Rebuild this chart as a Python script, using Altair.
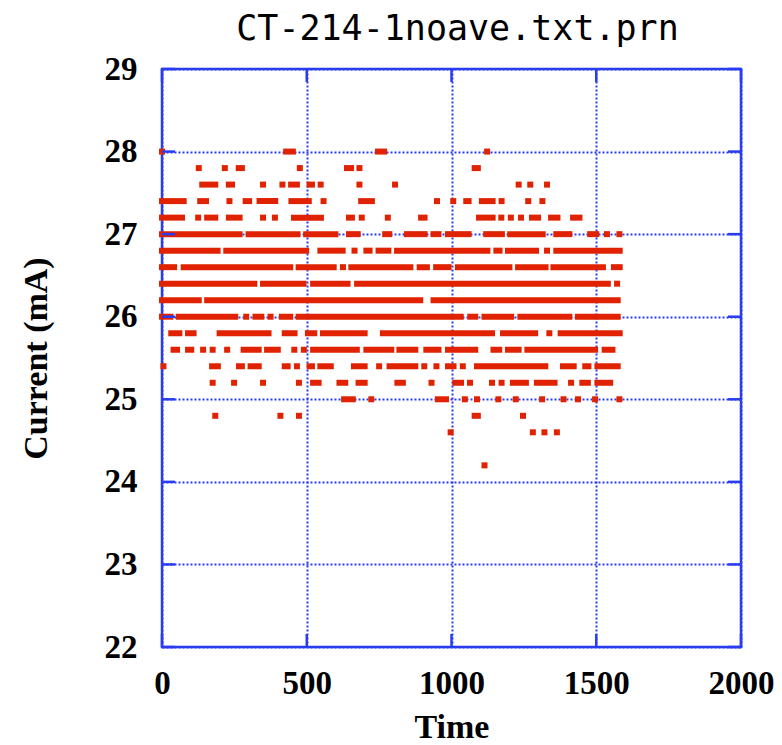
import altair as alt
import pandas as pd

title_text = "CT-214-1noave.txt.prn"
x_title = "Time"
y_title = "Current (mA)"
x_ticks = [0, 500, 1000, 1500, 2000]
y_ticks = [22, 23, 24, 25, 26, 27, 28, 29]

# runs of consecutive readings (start time, end time) at each current level (mA)
runs_28_0 = [(0, 0), (429, 452), (746, 767), (1123, 1123)]
runs_27_8 = [(127, 127), (217, 217), (265, 276), (476, 476), (639, 653), (682, 682), (1080, 1091)]
runs_27_6 = [(139, 184), (231, 242), (349, 349), (416, 416), (446, 466), (510, 518), (548, 548),
             (682, 682), (805, 805), (1232, 1232), (1272, 1272), (1330, 1330)]
runs_27_4 = [(0, 75), (132, 152), (233, 233), (289, 301), (337, 391), (447, 507), (558, 558),
             (688, 725), (950, 950), (1006, 1006), (1051, 1059), (1105, 1142), (1173, 1173),
             (1265, 1265), (1314, 1314)]
runs_27_2 = [(0, 69), (125, 125), (156, 184), (231, 268), (349, 349), (390, 390), (456, 549),
             (646, 656), (690, 690), (780, 780), (895, 907), (1095, 1142), (1172, 1172),
             (1205, 1205), (1240, 1240), (1278, 1299), (1344, 1366), (1420, 1442)]
runs_27_0 = [(0, 268), (299, 468), (498, 599), (646, 676), (771, 785), (846, 907), (938, 955),
             (988, 1059), (1120, 1174), (1203, 1315), (1362, 1407), (1479, 1500), (1537, 1537),
             (1580, 1580)]
runs_26_8 = [(0, 192), (222, 498), (547, 624), (665, 665), (706, 717), (748, 782), (812, 1124),
             (1155, 1166), (1195, 1292), (1330, 1330), (1362, 1581)]
runs_26_6 = [(0, 42), (75, 443), (472, 593), (625, 625), (654, 858), (890, 915), (947, 990),
             (1022, 1200), (1230, 1325), (1352, 1523), (1561, 1581)]
runs_26_4 = [(0, 319), (349, 489), (522, 641), (674, 1540), (1572, 1572)]
runs_26_2 = [(0, 127), (156, 892), (938, 1574)]
runs_26_0 = [(0, 29), (58, 253), (291, 291), (323, 343), (375, 375), (414, 443), (472, 1032),
             (1065, 1082), (1114, 1206), (1238, 1407), (1437, 1574)]
runs_25_8 = [(32, 60), (90, 109), (199, 368), (424, 458), (504, 526), (556, 700), (763, 1140),
             (1178, 1289), (1338, 1338), (1377, 1581)]
runs_25_6 = [(40, 52), (90, 101), (142, 142), (175, 175), (225, 225), (282, 334), (363, 400),
             (457, 457), (490, 490), (522, 673), (706, 792), (820, 875), (913, 955), (988, 1082),
             (1145, 1165), (1195, 1232), (1262, 1496), (1529, 1556)]
runs_25_4 = [(5, 5), (173, 193), (266, 276), (306, 334), (424, 434), (466, 466), (510, 518),
             (547, 583), (663, 700), (750, 750), (786, 875), (906, 906), (948, 948), (988, 1007),
             (1039, 1039), (1088, 1324), (1385, 1422), (1462, 1473), (1504, 1574)]
runs_25_2 = [(175, 175), (249, 249), (349, 349), (473, 473), (522, 541), (613, 633), (679, 700),
             (813, 832), (931, 931), (1013, 1033), (1064, 1064), (1140, 1140), (1173, 1173),
             (1212, 1257), (1295, 1356), (1413, 1413), (1452, 1471), (1504, 1548)]
runs_25_0 = [(629, 659), (723, 723), (953, 981), (1046, 1046), (1088, 1088), (1162, 1162),
             (1222, 1222), (1313, 1313), (1387, 1387), (1437, 1437), (1496, 1496), (1580, 1580)]
runs_24_8 = [(184, 184), (409, 409), (473, 473), (1080, 1091), (1247, 1247)]
runs_24_6 = [(997, 997), (1281, 1281), (1321, 1321), (1364, 1364)]
runs_24_2 = [(1114, 1114)]

levels = [
    (28.0, runs_28_0), (27.8, runs_27_8), (27.6, runs_27_6), (27.4, runs_27_4),
    (27.2, runs_27_2), (27.0, runs_27_0), (26.8, runs_26_8), (26.6, runs_26_6),
    (26.4, runs_26_4), (26.2, runs_26_2), (26.0, runs_26_0), (25.8, runs_25_8),
    (25.6, runs_25_6), (25.4, runs_25_4), (25.2, runs_25_2), (25.0, runs_25_0),
    (24.8, runs_24_8), (24.6, runs_24_6), (24.2, runs_24_2),
]
df = pd.DataFrame(
    [{"current": lv, "t0": a, "t1": b} for lv, runs in levels for a, b in runs]
)
xt = pd.DataFrame({"v": x_ticks})
yt = pd.DataFrame({"v": y_ticks})

W, H = 579, 578
BLUE = "#2a3cf0"
RED = "#e02200"
TICK = 13

xs = alt.Scale(domain=[0, 2000], nice=False, zero=False)
ys = alt.Scale(domain=[22, 29], nice=False, zero=False)

x_axis = alt.Axis(
    values=x_ticks, format="d", grid=True, gridColor=BLUE, gridDash=[2, 2], gridWidth=2,
    domain=False, ticks=False, tickSize=0,
    labelFont="Liberation Serif", labelFontWeight="bold", labelFontSize=33, labelColor="black",
    labelPadding=20, labelFlush=False, labelOverlap=False,
    title=x_title, titleFont="Liberation Serif", titleFontWeight="bold", titleFontSize=34,
    titleColor="black", titleX=W / 2, titleY=80, titleAlign="center", titleBaseline="middle",
)
y_axis = alt.Axis(
    values=y_ticks, format="d", grid=True, gridColor=BLUE, gridDash=[2, 2], gridWidth=2,
    domain=False, ticks=False, tickSize=0,
    labelFont="Liberation Serif", labelFontWeight="bold", labelFontSize=33, labelColor="black",
    labelPadding=25, labelFlush=False, labelOverlap=False,
    title=y_title, titleFont="Liberation Serif", titleFontWeight="bold", titleFontSize=34,
    titleColor="black", titleX=-126, titleY=H / 2, titleAngle=270,
    titleAlign="center", titleBaseline="middle",
)

points = alt.Chart(df).mark_rect(
    color=RED, xOffset=-3, x2Offset=3, yOffset=-3, y2Offset=3
).encode(
    x=alt.X("t0:Q", scale=xs, axis=x_axis),
    x2="t1:Q",
    y=alt.Y("current:Q", scale=ys, axis=y_axis),
    y2="current:Q",
)

tick_style = dict(color=BLUE, strokeWidth=2.5)
xt_bottom = alt.Chart(xt).mark_rule(**tick_style).encode(
    x=alt.X("v:Q", scale=xs, axis=x_axis), y=alt.value(H), y2=alt.value(H - TICK)
)
xt_top = alt.Chart(xt).mark_rule(**tick_style).encode(
    x=alt.X("v:Q", scale=xs, axis=x_axis), y=alt.value(0), y2=alt.value(TICK)
)
yt_left = alt.Chart(yt).mark_rule(**tick_style).encode(
    y=alt.Y("v:Q", scale=ys, axis=y_axis), x=alt.value(0), x2=alt.value(TICK)
)
yt_right = alt.Chart(yt).mark_rule(**tick_style).encode(
    y=alt.Y("v:Q", scale=ys, axis=y_axis), x=alt.value(W - TICK), x2=alt.value(W)
)

chart = (
    alt.layer(points, xt_bottom, xt_top, yt_left, yt_right)
    .properties(
        width=W, height=H,
        title=alt.TitleParams(
            text=title_text, font="DejaVu Sans Mono", fontSize=35, fontWeight="normal",
            color="black", anchor="middle", offset=7, baseline="alphabetic", dx=6, dy=29,
            frame="group",
        ),
        autosize=alt.AutoSizeParams(type="none"),
        padding={"left": 162, "top": 69, "right": 41, "bottom": 98},
        background="white",
    )
    .configure_view(stroke=BLUE, strokeWidth=2.5)
)

chart.save("out.html", embed_options={"renderer": "svg", "actions": False})
